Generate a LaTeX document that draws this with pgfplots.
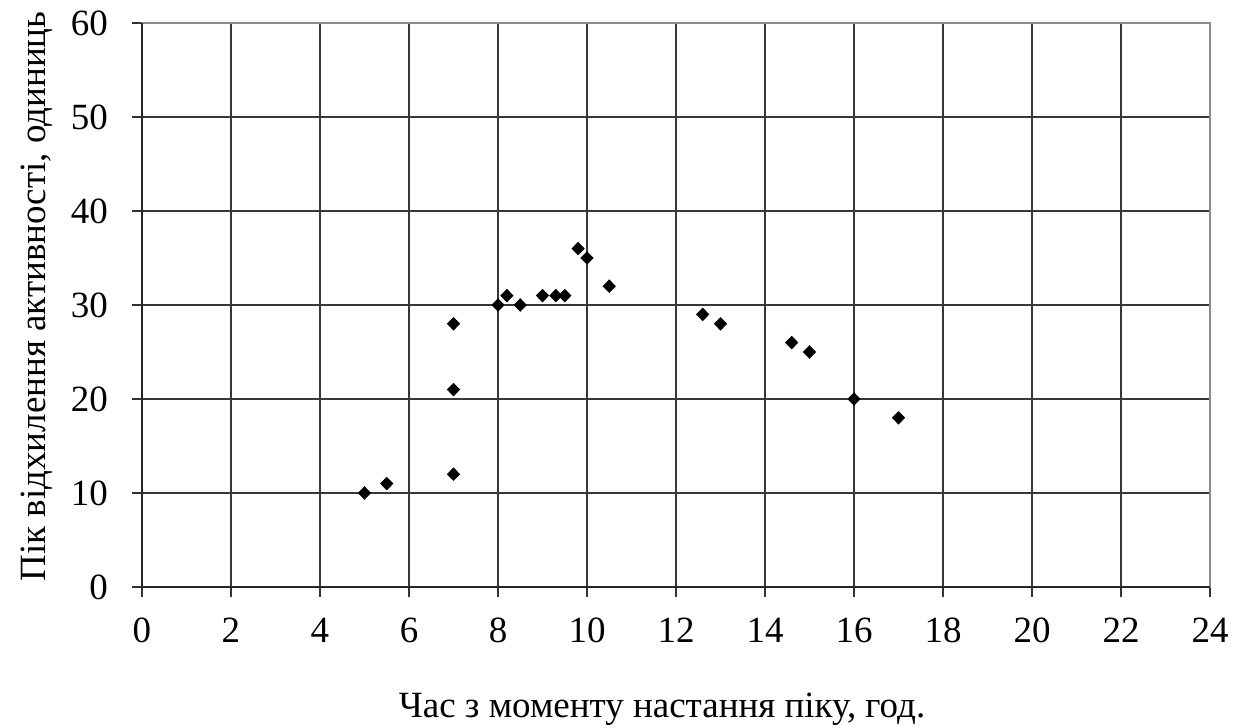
\documentclass[border=0pt]{standalone}
\usepackage{fontspec}
\setmainfont{Liberation Serif}
\usepackage{pgfplots}
\pgfplotsset{compat=1.18}
\begin{document}
\begin{tikzpicture}
\begin{axis}[
  at={(0,0)}, anchor=origin,
  scale only axis,
  width=534pt, height=282pt,
  xmin=0, xmax=24, ymin=0, ymax=60,
  xtick={0,2,...,24}, ytick={0,10,...,60},
  minor xtick={2,4,...,22}, minor ytick={10,20,...,50},
  grid=minor,
  minor grid style={black!78, line width=0.9pt},
  axis line style={black!45, line width=1pt},
  tick pos=left,
  tick align=outside,
  tick style={black!80, line width=0.9pt},
  major tick length=5pt, minor tick length=5pt,
  /pgf/number format/assume math mode=true,
  ticklabel style={font=\fontsize{18.5}{21}\selectfont},
  xticklabel style={yshift=-7pt},
  yticklabel style={xshift=-8.5pt},
  xlabel={Час з моменту настання піку, год.},
  ylabel={Пік відхилення активності, одиниць},
  label style={font=\fontsize{18.5}{21}\selectfont},
  xlabel style={at={([xshift=-7pt,yshift=-65.5pt]axis description cs:0.5,0)}, anchor=base},
  ylabel style={at={([xshift=-48pt,yshift=4.25pt]axis description cs:0,0.5)}, anchor=base},
  clip=false,
]
\draw[black!85, line width=1pt] (rel axis cs:0,1) -- (rel axis cs:0,0) -- (rel axis cs:1,0);
\addplot[only marks, mark=diamond*, mark size=3.1pt, mark options={xscale=1.3, fill=black, draw=black}] coordinates {
(5,10) (5.5,11) (7,12) (7,21) (7,28) (8,30) (8.2,31) (8.5,30) (9,31) (9.3,31) (9.5,31) (9.8,36) (10,35) (10.5,32) (12.6,29) (13,28) (14.6,26) (15,25) (16,20) (17,18)
};
\end{axis}
\pgfresetboundingbox
\useasboundingbox (-71pt,-69.5pt) rectangle (549.5pt,293.5pt);
\end{tikzpicture}
\end{document}
